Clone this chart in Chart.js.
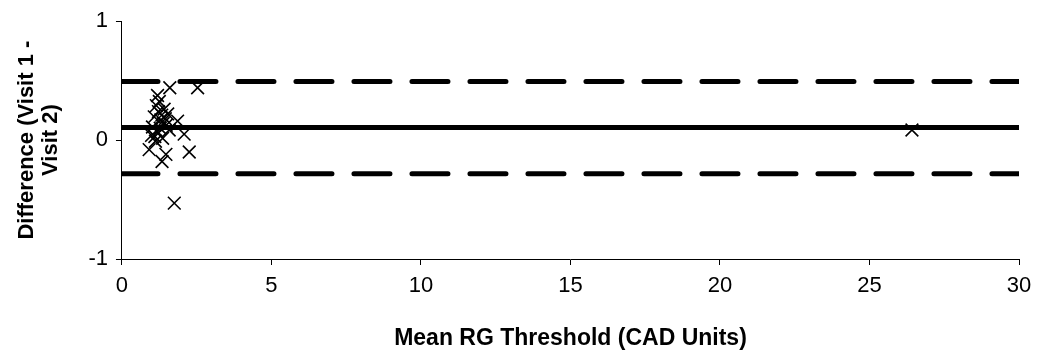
<!DOCTYPE html>
<html>
<head>
<meta charset="utf-8">
<script src="https://cdn.jsdelivr.net/npm/chart.js@4/dist/chart.umd.min.js"></script>
<style>
html,body{margin:0;padding:0;background:#fff;}
#wrap{width:1042px;height:358px;}
</style>
</head>
<body>
<div id="wrap"><canvas id="c" width="1042" height="358"></canvas></div>
<script>
// Data (Bland-Altman plot)
const meanValues = [1.60, 2.53, 1.19, 1.25, 1.15, 1.41, 1.53, 1.86, 1.08, 1.30, 1.02, 1.48, 1.19, 2.08, 1.36, 1.12, 0.91, 1.47, 1.34, 2.25, 1.75, 1.58, 0.99, 1.22, 1.38, 1.28, 1.45, 1.10, 1.33, 26.42];
const diffValues = [0.44, 0.44, 0.375, 0.325, 0.29, 0.26, 0.22, 0.16, 0.195, 0.17, 0.11, 0.125, 0.07, 0.05, 0.015, -0.01, -0.08, -0.12, -0.18, -0.10, -0.53, 0.085, 0.04, 0.24, 0.14, 0.10, 0.18, 0.03, 0.21, 0.085];
const xRange = [0, 30];
const biasLine = 0.105;
const upperLimit = 0.493;
const lowerLimit = -0.284;
const xTicks = [0, 5, 10, 15, 20, 25, 30];
const yTicks = [-1, 0, 1];

const points = meanValues.map((m, i) => ({x: m, y: diffValues[i]}));
const hline = v => xRange.map(x => ({x: x, y: v}));

const FONT = "'Liberation Sans', Arial, sans-serif";

new Chart(document.getElementById('c'), {
  type: 'scatter',
  data: {
    datasets: [
      {
        type: 'line', data: hline(upperLimit), borderColor: '#000', borderWidth: 5,
        borderDash: [36, 22], borderCapStyle: 'round', pointRadius: 0, fill: false
      },
      {
        type: 'line', data: hline(biasLine), borderColor: '#000', borderWidth: 5,
        borderCapStyle: 'round', pointRadius: 0, fill: false
      },
      {
        type: 'line', data: hline(lowerLimit), borderColor: '#000', borderWidth: 5,
        borderDash: [36, 22], borderCapStyle: 'round', pointRadius: 0, fill: false
      },
      {
        data: points, pointStyle: 'crossRot', pointRadius: 9, pointBorderWidth: 1.6,
        borderColor: '#000', backgroundColor: '#000', pointHoverRadius: 9
      }
    ]
  },
  options: {
    responsive: false,
    animation: false,
    devicePixelRatio: 1,
    layout: { padding: { left: 0, right: 23, top: 0, bottom: 0 } },
    plugins: { legend: { display: false }, tooltip: { enabled: false } },
    scales: {
      x: {
        type: 'linear', min: 0, max: 30,
        afterBuildTicks: a => { a.ticks = xTicks.map(v => ({value: v})); },
        border: { display: true, color: '#000', width: 1 },
        grid: { drawOnChartArea: false, drawTicks: true, tickLength: 6, color: '#000' },
        ticks: { color: '#000', font: { family: FONT, size: 22 }, padding: 8, maxRotation: 0 },
        title: { display: true, text: 'Mean RG Threshold (CAD Units)', color: '#000',
                 font: { family: FONT, size: 23, weight: 'bold' }, padding: { top: 17, bottom: 6 } }
      },
      y: {
        type: 'linear', min: -1, max: 1,
        afterBuildTicks: a => { a.ticks = yTicks.map(v => ({value: v})); },
        border: { display: true, color: '#000', width: 1 },
        grid: { drawOnChartArea: false, drawTicks: true, tickLength: 6, color: '#000' },
        ticks: { color: '#000', font: { family: FONT, size: 22 }, padding: 8 },
        title: { display: true, text: ['Difference (Visit 1 -', 'Visit 2)'], color: '#000',
                 font: { family: FONT, size: 22, weight: 'bold', lineHeight: 1.1 }, padding: { top: 15, bottom: 17 } }
      }
    }
  }
});
</script>
</body>
</html>
